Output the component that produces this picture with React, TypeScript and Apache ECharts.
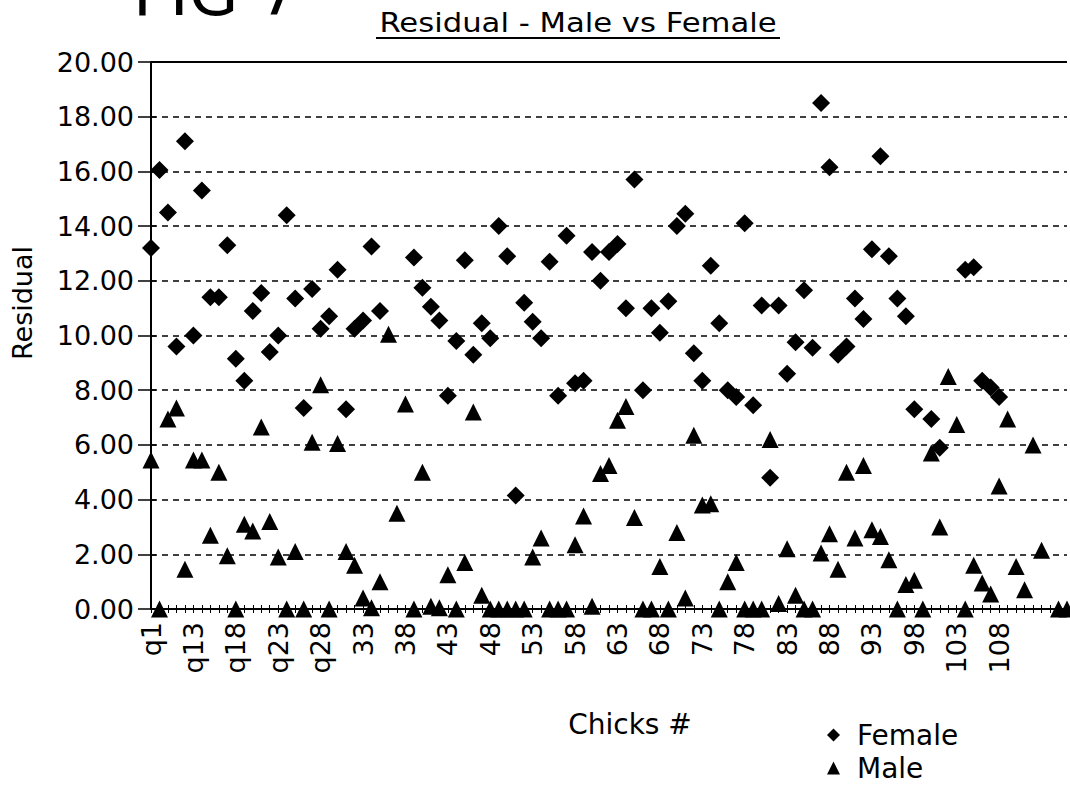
import React, { useEffect, useRef } from 'react';
import * as echarts from 'echarts';

// Category labels along the x axis (only every 5th shown, up to "108")
const categories: string[] = [
  'q1', 'q4', 'q7', 'q9', 'q11',
  'q13', 'q14', 'q15', 'q16', 'q17', 'q18', 'q19', 'q20', 'q21', 'q22',
  'q23', 'q24', 'q25', 'q26', 'q27', 'q28',
  '29', '30', '31', '32', '33', '34', '35', '36', '37', '38',
  '39', '40', '41', '42', '43', '44', '45', '46', '47', '48',
  '49', '50', '51', '52', '53', '54', '55', '56', '57', '58',
  '59', '60', '61', '62', '63', '64', '65', '66', '67', '68',
  '69', '70', '71', '72', '73', '74', '75', '76', '77', '78',
  '79', '80', '81', '82', '83', '84', '85', '86', '87', '88',
  '89', '90', '91', '92', '93', '94', '95', '96', '97', '98',
  '99', '100', '101', '102', '103', '104', '105', '106', '107', '108',
  '109', '110', '111', '112', '113', '114', '115', '116',
];

const female: (number | null)[] = [
  13.2, 16.05, 14.5, 9.6, 17.1, 10.0, 15.3, 11.4, 11.4, 13.3,
  9.15, 8.35, 10.9, 11.55, 9.4, 10.0, 14.4, 11.35, 7.35, 11.7,
  10.25, 10.7, 12.4, 7.3, 10.25, 10.55, 13.25, 10.9, null, null,
  null, 12.85, 11.75, 11.05, 10.55, 7.8, 9.8, 12.75, 9.3, 10.45,
  9.9, 14.0, 12.9, 4.15, 11.2, 10.5, 9.9, 12.7, 7.8, 13.65,
  8.25, 8.35, 13.05, 12.0, 13.05, 13.35, 11.0, 15.7, 8.0, 11.0,
  10.1, 11.25, 14.0, 14.45, 9.35, 8.35, 12.55, 10.45, 8.0, 7.75,
  14.1, 7.45, 11.1, 4.8, 11.1, 8.6, 9.75, 11.65, 9.55, 18.5,
  16.15, 9.3, 9.6, 11.35, 10.6, 13.15, 16.55, 12.9, 11.35, 10.7,
  7.3, null, 6.95, 5.9, null, null, 12.4, 12.5, 8.35, 8.1,
  7.75, null, null, null, null, null, null, null, null,
];

const male: (number | null)[] = [
  5.45, 0, 6.95, 7.35, 1.45, 5.45, 5.45, 2.7, 5.0, 1.95,
  0, 3.1, 2.85, 6.65, 3.2, 1.9, 0, 2.1, 0, 6.1,
  8.2, 0, 6.05, 2.1, 1.6, 0.4, 0.05, 1.0, 10.05, 3.5,
  7.5, 0, 5.0, 0.1, 0.05, 1.25, 0, 1.7, 7.2, 0.5,
  0, 0, 0, 0, 0, 1.9, 2.6, 0, 0, 0,
  2.35, 3.4, 0.1, 4.95, 5.25, 6.9, 7.4, 3.35, 0, 0,
  1.55, 0, 2.8, 0.4, 6.35, 3.8, 3.85, 0, 1.0, 1.7,
  0, 0, 0, 6.2, 0.2, 2.2, 0.5, 0, 0, 2.05,
  2.75, 1.45, 5.0, 2.6, 5.25, 2.9, 2.65, 1.8, 0, 0.9,
  1.05, 0, 5.7, 3.0, 8.5, 6.75, 0, 1.6, 0.95, 0.55,
  4.5, 6.95, 1.55, 0.7, 6.0, 2.15, null, 0, 0,
];

const seriesNames = ['Female', 'Male'];
const titleText = 'Residual - Male vs Female';
const yAxisName = 'Residual';
const xAxisName = 'Chicks #';
const figLabel = 'FIG 7';
const lastLabelled = 108;

const toPairs = (arr: (number | null)[]) =>
  arr.map((v, i) => (v === null ? null : [i, v])).filter((p) => p !== null);

export default function App() {
  const ref = useRef<HTMLDivElement>(null);

  useEffect(() => {
    if (!ref.current) return;
    const chart = echarts.init(ref.current, null, { renderer: 'svg' });
    const font = 'DejaVu Sans';
    chart.setOption({
      animation: false,
      backgroundColor: '#ffffff',
      textStyle: { fontFamily: font, color: '#000' },
      grid: { left: 151, right: 3, top: 62, bottom: 183, containLabel: false },
      legend: {
        orient: 'vertical',
        left: 822,
        top: 716,
        itemGap: 5,
        itemWidth: 13,
        itemHeight: 13,
        textStyle: { fontSize: 28, fontFamily: font, color: '#000', padding: [0, 0, 0, 12] },
        data: seriesNames,
      },
      xAxis: [
        {
          type: 'category',
          data: categories,
          boundaryGap: false,
          position: 'bottom',
          axisLine: { show: true, onZero: false, lineStyle: { color: '#000', width: 2 } },
          axisTick: { show: true, interval: 0, length: 4, lineStyle: { color: '#000', width: 1 } },
          axisLabel: {
            interval: 4,
            rotate: 90,
            fontSize: 27,
            fontFamily: font,
            color: '#000',
            margin: 13,
            formatter: (v: string) => (Number(v) > lastLabelled ? '' : v),
          },
          splitLine: { show: false },
        },
        {
          type: 'category',
          data: categories,
          boundaryGap: false,
          position: 'bottom',
          axisLine: { show: false, onZero: false },
          axisTick: { show: true, inside: true, interval: 0, length: 4, lineStyle: { color: '#000', width: 1 } },
          axisLabel: { show: false },
          splitLine: { show: false },
        },
      ],
      yAxis: [
        {
          type: 'value',
          min: 0,
          max: 20,
          interval: 2,
          axisLine: { show: true, lineStyle: { color: '#000', width: 2 } },
          axisTick: { show: true, length: 13, lineStyle: { color: '#000', width: 1.5 } },
          axisLabel: {
            fontSize: 27,
            fontFamily: font,
            color: '#000',
            margin: 17,
            formatter: (v: number) => v.toFixed(2),
          },
          splitLine: { show: true, lineStyle: { color: '#000', type: [6, 5], width: 1.5 } },
        },
        {
          type: 'value',
          min: 0,
          max: 20,
          interval: 2,
          position: 'left',
          axisLine: { show: false },
          axisTick: { show: true, inside: true, length: 5, lineStyle: { color: '#000', width: 1.5 } },
          axisLabel: { show: false },
          splitLine: { show: false },
        },
      ],
      graphic: [
        {
          type: 'text',
          x: 133,
          y: 25,
          style: { text: figLabel, fontSize: 64, fontFamily: font, fill: '#000', align: 'left', verticalAlign: 'bottom' },
        },
        {
          type: 'text',
          x: 578,
          y: 23,
          scaleX: 1.18,
          style: { text: titleText, fontSize: 26, fontFamily: font, fill: '#000', align: 'center', verticalAlign: 'middle' },
        },
        {
          type: 'line',
          shape: { x1: 376, y1: 38, x2: 780, y2: 38 },
          style: { stroke: '#000', lineWidth: 2 },
        },
        {
          type: 'text',
          x: 22,
          y: 303,
          rotation: Math.PI / 2,
          style: { text: yAxisName, fontSize: 27, fontFamily: font, fill: '#000', align: 'center', verticalAlign: 'middle' },
        },
        {
          type: 'text',
          x: 630,
          y: 724,
          style: { text: xAxisName, fontSize: 28, fontFamily: font, fill: '#000', align: 'center', verticalAlign: 'middle' },
        },
      ],
      series: [
        {
          name: seriesNames[0],
          type: 'scatter',
          xAxisIndex: 0,
          yAxisIndex: 0,
          symbol: 'diamond',
          symbolSize: 18,
          clip: false,
          itemStyle: { color: '#000', opacity: 1 },
          data: toPairs(female),
          markLine: {
            silent: true,
            symbol: 'none',
            label: { show: false },
            lineStyle: { color: '#000', type: 'solid', width: 2 },
            data: [{ yAxis: 20 }],
          },
        },
        {
          name: seriesNames[1],
          type: 'scatter',
          xAxisIndex: 0,
          yAxisIndex: 0,
          symbol: 'triangle',
          symbolSize: 17,
          clip: false,
          itemStyle: { color: '#000', opacity: 1 },
          data: toPairs(male),
        },
      ],
    });
    return () => chart.dispose();
  }, []);

  return (
    <div
      ref={ref}
      style={{ position: 'absolute', left: 0, top: 0, width: 1070, height: 792, background: '#fff' }}
    />
  );
}
